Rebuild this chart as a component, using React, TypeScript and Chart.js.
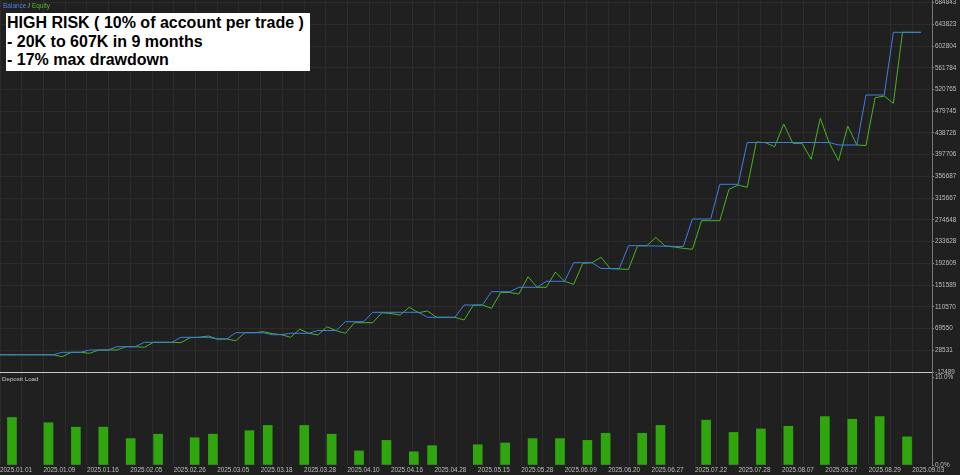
import { useEffect, useRef } from "react";
import { Chart, registerables } from "chart.js";

Chart.register(...registerables);

// ---- data (deal index -> account value) ----
const BALANCE: number[] = [
  20000, 20000, 20000, 20000, 20000, 20000, 20000,
  24700, 24700, 24700,
  29040, 29040, 29040,
  35270, 35270, 35270,
  43580, 43580, 43580, 43580,
  53010, 53010, 53010, 53010,
  49800, 49800,
  61700, 61700, 61700, 61700,
  57920, 57920,
  60560, 60560, 60560,
  65850, 65850, 65850,
  82460, 82460, 82460,
  100200, 100200, 100200, 100200, 100200, 100200,
  90770, 90770, 90770, 90770,
  113990, 113990, 113990,
  139100, 139100, 139100,
  147400, 147400, 147400,
  158720, 158720, 158720,
  193840, 193840, 193840,
  182880, 182880, 182880,
  225900, 225900, 225600, 225300, 225000, 224700, 224400,
  276330, 276330, 276330,
  341830, 341830, 341830,
  420740, 420740, 420740, 420740, 420740, 420740, 420740, 420740, 420740, 420740,
  416000, 416000, 416000,
  510400, 510400, 510400,
  628760, 628760, 628760, 628760,
];

const EQUITY: number[] = [
  20000, 20000, 20000, 20000, 20000, 20000, 20000,
  16400, 24700, 24700,
  22810, 29040, 29040, 29040,
  35270, 35270, 34140,
  43580, 43580, 43580,
  42820, 52260, 53010, 55470,
  49800, 49800, 46600,
  61700, 61700, 63580,
  60000, 57920, 53010,
  68110, 60560, 57360,
  73020, 65470, 60560,
  80570, 80570, 80570,
  99450, 97940, 95110, 109640, 99450, 102660,
  90770, 90770, 90770, 85670,
  113420, 113990, 107760,
  137200, 137580, 134750,
  167410, 147400, 147400,
  176280, 158720, 153060,
  192700, 193840, 204030,
  182500, 181940, 181380,
  225920, 225920, 241400, 225300, 223460, 221000, 219130,
  273120, 273120, 273120,
  332390, 340510, 336170,
  421680, 420360, 412810, 455660, 419230, 419230, 389030, 466420, 419230,
  386380, 451880, 416010,
  415000, 505300, 508510,
  494730, 628760, 628760, 628760,
];

// deals that carry a deposit-load bar, and the load in percent
const LOAD_DEALS: number[] = [
  1, 5, 8, 11, 14, 17, 21, 23, 27, 29, 33, 36, 39, 42, 45, 47,
  52, 55, 58, 61, 64, 66, 70, 72, 77, 80, 83, 86, 90, 93, 96, 99,
];
const LOAD_PCT: number[] = [
  5.4, 4.8, 4.3, 4.3, 3.0, 3.5, 3.1, 3.5, 3.9, 4.5, 4.5, 3.5, 1.6, 2.8, 1.5, 2.2,
  2.3, 2.5, 3.0, 3.0, 2.8, 3.6, 3.6, 4.5, 5.1, 3.7, 4.1, 4.4, 5.5, 5.2, 5.5, 3.2,
];

const DATE_LABELS: string[] = [
  "2025.01.01", "2025.01.09", "2025.01.16", "2025.02.05", "2025.02.26", "2025.03.05",
  "2025.03.18", "2025.03.28", "2025.04.10", "2025.04.16", "2025.04.28", "2025.05.15",
  "2025.05.28", "2025.06.09", "2025.06.20", "2025.06.27", "2025.07.22", "2025.07.28",
  "2025.08.07", "2025.08.27", "2025.08.29", "2025.09.03",
];

// axis ranges / tick layout
const Y_MIN = -12489;
const Y_STEP = 41019.53;
const Y_TICK_COUNT = 18;
const Y_MAX = 689750;
const LOAD_MAX = 10.57;
const LOAD_TICKS = [0, 10];
const X_MIN = 0.19;
const X_MAX = 102.23;
const X_GRID_STEP = 2.378;

// style
const BG = "#202020";
const GRID = "#2c2c2c";
const SEP = "#c8c8c8";
const AXIS = "#777777";
const TICK = "#8a8a8a";
const LABEL = "#bdbdbd";
const BLUE = "#3f7ee6";
const GREEN = "#45b521";
const BAR = "#2fa50e";
const FONT = '"Liberation Sans", Arial, sans-serif';
const SMALL = 6.4;

export default function App() {
  const ref = useRef<HTMLCanvasElement>(null);

  useEffect(() => {
    document.body.style.margin = "0";
    document.body.style.background = BG;
    const noPad = (s: any) => {
      s.paddingTop = 0;
      s.paddingBottom = 0;
      s.paddingLeft = 0;
      s.paddingRight = 0;
    };
    const chart = new Chart(ref.current as HTMLCanvasElement, {
      type: "line",
      data: {
        datasets: [
          {
            type: "line",
            label: "Balance",
            data: BALANCE.map((v, i) => ({ x: i, y: v })),
            borderColor: BLUE,
            borderWidth: 1,
            pointRadius: 0,
            tension: 0,
            xAxisID: "x",
            yAxisID: "y",
            order: 0,
          },
          {
            type: "line",
            label: "Equity",
            data: EQUITY.map((v, i) => ({ x: i, y: v })),
            borderColor: GREEN,
            borderWidth: 1,
            pointRadius: 0,
            tension: 0,
            xAxisID: "x",
            yAxisID: "y",
            order: 1,
          },
          {
            type: "bar",
            label: "Deposit Load",
            data: LOAD_DEALS.map((t, k) => ({ x: t + 0.5, y: LOAD_PCT[k] })),
            backgroundColor: BAR,
            borderWidth: 0,
            barThickness: 9,
            xAxisID: "x",
            yAxisID: "yLoad",
            order: 2,
          } as any,
        ],
      },
      options: {
        responsive: false,
        animation: false,
        devicePixelRatio: 1,
        layout: { padding: 0 },
        plugins: { legend: { display: false }, tooltip: { enabled: false } },
        scales: {
          x: {
            type: "linear",
            position: "bottom",
            offset: false,
            min: X_MIN,
            max: X_MAX,
            afterBuildTicks: (s: any) => {
              const t: { value: number }[] = [];
              for (let k = 0; X_MIN + k * X_GRID_STEP <= X_MAX; k++) t.push({ value: X_MIN + k * X_GRID_STEP });
              s.ticks = t;
            },
            afterFit: (s: any) => {
              s.height = 10;
              noPad(s);
            },
            grid: { color: GRID, offset: false, drawTicks: false, tickLength: 0 },
            border: { display: false },
            ticks: {
              autoSkip: false,
              maxRotation: 0,
              minRotation: 0,
              align: "start",
              padding: 1,
              color: LABEL,
              font: { family: FONT, size: SMALL },
              callback: (_v: any, i: number) => (i % 2 === 0 ? DATE_LABELS[i / 2] ?? "" : ""),
            },
          },
          y: {
            type: "linear",
            position: "right",
            stack: "panes",
            stackWeight: 4,
            min: Y_MIN,
            max: Y_MAX,
            afterBuildTicks: (s: any) => {
              s.ticks = Array.from({ length: Y_TICK_COUNT }, (_, k) => ({ value: Y_MIN + k * Y_STEP }));
            },
            afterFit: (s: any) => {
              s.width = 28;
              noPad(s);
            },
            grid: {
              color: (c: any) => (c.index === 0 ? SEP : GRID),
              tickColor: TICK,
              tickLength: 2,
            },
            border: { color: AXIS, width: 1 },
            ticks: {
              autoSkip: false,
              padding: 1,
              color: LABEL,
              font: { family: FONT, size: SMALL },
              callback: (v: any) => String(Math.round(Number(v))),
            },
          },
          yLoad: {
            type: "linear",
            position: "right",
            stack: "panes",
            stackWeight: 1,
            min: 0,
            max: LOAD_MAX,
            afterBuildTicks: (s: any) => {
              s.ticks = LOAD_TICKS.map((v) => ({ value: v }));
            },
            afterFit: (s: any) => {
              s.width = 28;
              noPad(s);
            },
            grid: { drawOnChartArea: false, tickColor: TICK, tickLength: 2 },
            border: { color: AXIS, width: 1 },
            ticks: {
              autoSkip: false,
              padding: 1,
              color: LABEL,
              font: { family: FONT, size: SMALL },
              callback: (v: any) => Number(v).toFixed(1) + "%",
            },
          },
        },
      } as any,
    });
    return () => chart.destroy();
  }, []);

  return (
    <div style={{ position: "relative", width: 960, height: 475, background: BG, overflow: "hidden" }}>
      <canvas ref={ref} width={960} height={475} style={{ display: "block" }} />
      <div
        style={{
          position: "absolute",
          left: 3,
          top: 2,
          fontFamily: FONT,
          fontSize: 6.5,
          lineHeight: "8px",
          whiteSpace: "nowrap",
        }}
      >
        <span style={{ color: "#4f80dc" }}>Balance</span>
        <span style={{ color: "#c0c0c0" }}> / </span>
        <span style={{ color: "#58b52e" }}>Equity</span>
      </div>
      <div
        style={{
          position: "absolute",
          left: 6,
          top: 13,
          width: 304,
          height: 58,
          boxSizing: "border-box",
          padding: "1px 0 0 1px",
          background: "#ffffff",
          color: "#000000",
          fontFamily: FONT,
          fontWeight: "bold",
          fontSize: 16,
          lineHeight: "18.7px",
          whiteSpace: "nowrap",
        }}
      >
        <div>HIGH RISK ( 10% of account per trade )</div>
        <div>- 20K to 607K in 9 months</div>
        <div>- 17% max drawdown</div>
      </div>
      <div
        style={{
          position: "absolute",
          left: 2,
          top: 375,
          fontFamily: FONT,
          fontSize: 6.2,
          lineHeight: "8px",
          color: "#c8c8c8",
          whiteSpace: "nowrap",
        }}
      >
        Deposit Load
      </div>
    </div>
  );
}
